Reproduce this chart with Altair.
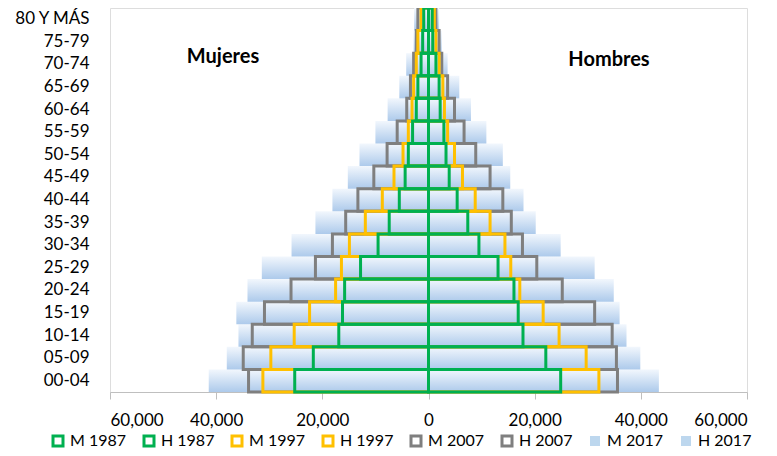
import altair as alt
import pandas as pd

ages = ["00-04", "05-09", "10-14", "15-19", "20-24", "25-29", "30-34", "35-39",
        "40-44", "45-49", "50-54", "55-59", "60-64", "65-69", "70-74", "75-79", "80 Y MÁS"]

# values in thousands, bottom (00-04) to top (80 Y MÁS)
m1987 = [25.2, 21.7, 16.9, 16.2, 15.8, 12.8, 9.5, 7.4, 5.5, 4.4, 3.8, 3.0, 2.3, 2.0, 1.4, 1.1, 0.9]
h1987 = [24.9, 22.1, 17.8, 16.9, 16.1, 13.1, 9.5, 7.4, 5.4, 3.9, 3.3, 2.9, 2.2, 2.0, 1.4, 0.8, 0.7]
m1997 = [31.2, 29.7, 25.3, 22.4, 17.5, 16.4, 14.9, 11.9, 8.7, 6.5, 4.8, 3.8, 3.1, 2.8, 2.3, 2.0, 1.4]
h1997 = [32.1, 29.7, 24.6, 21.6, 17.2, 15.5, 14.4, 11.6, 8.8, 6.4, 4.9, 3.6, 3.0, 2.7, 2.0, 1.4, 1.1]
m2007 = [33.9, 34.9, 33.2, 30.9, 25.9, 21.3, 18.1, 15.6, 13.3, 10.3, 7.8, 5.9, 4.1, 3.4, 2.8, 2.3, 2.0]
h2007 = [35.6, 35.4, 34.6, 31.3, 25.2, 20.4, 17.7, 15.6, 14.0, 11.6, 8.9, 6.7, 4.9, 3.6, 2.5, 2.0, 1.4]
m2017 = [41.4, 38.0, 35.8, 36.2, 34.1, 31.4, 25.8, 21.3, 18.1, 15.2, 13.0, 10.0, 7.7, 5.5, 4.2, 2.8, 2.7]
h2017 = [43.4, 39.9, 37.3, 36.0, 34.9, 31.3, 24.9, 20.2, 17.9, 15.4, 14.0, 10.9, 8.0, 5.8, 3.6, 2.5, 2.0]

series_names = ["M 1987", "H 1987", "M 1997", "H 1997", "M 2007", "H 2007", "M 2017", "H 2017"]
series_vals = [m1987, h1987, m1997, h1997, m2007, h2007, m2017, h2017]
stroke_colors = ["#00B050", "#00B050", "#FFC000", "#FFC000", "#7F7F7F", "#7F7F7F", "transparent", "transparent"]
fill_colors = ["transparent"] * 6 + ["#BDD7EE", "#BDD7EE"]
draw_z = {"1987": 3, "1997": 2, "2007": 1, "2017": 0}

rows = []
for name, vals in zip(series_names, series_vals):
    sign = -1 if name.startswith("M") else 1
    year = name.split()[1]
    for a, v in zip(ages, vals):
        rows.append({"age": a, "serie": name, "year": year, "value": sign * v * 1000, "z": draw_z[year]})
df = pd.DataFrame(rows)

top_to_bottom = ages[::-1]
FONT = "Lato"

x_enc = alt.X("value:Q", stack=None,
              scale=alt.Scale(domain=[-60000, 60000], nice=False),
              axis=alt.Axis(values=[-60000, -40000, -20000, 0, 20000, 40000, 60000],
                            labelExpr="format(abs(datum.value), ',')",
                            grid=False, domainColor="#BFBFBF", tickColor="#BFBFBF",
                            tickSize=7, labelPadding=13, labelFontSize=17, labelFont=FONT,
                            labelColor="#000000", title=None))
y_enc = alt.Y("age:N", sort=top_to_bottom,
              scale=alt.Scale(paddingInner=0, paddingOuter=0),
              axis=alt.Axis(title=None, domain=False, ticks=False, labelPadding=21,
                            labelFontSize=17, labelFont=FONT, labelColor="#000000"))

grad = alt.Gradient(gradient="linear",
                    stops=[alt.GradientStop(color="#F2F7FD", offset=0),
                           alt.GradientStop(color="#ADCAEB", offset=1)],
                    x1=0, x2=0, y1=0, y2=1)

base = alt.Chart(df)

fill2017 = base.transform_filter(alt.datum.year == "2017").mark_bar(color=grad).encode(
    x=x_enc, y=y_enc)

zero_rule = base.transform_filter(alt.datum.serie == "M 1987").mark_rule(
    color="#BFBFBF", strokeWidth=1).encode(x=alt.datum(0))

legend_opts = dict(title=None, orient="none", direction="horizontal",
                   columns=8, legendX=-60, legendY=425,
                   symbolType="square", symbolSize=100,
                   symbolStrokeWidth=3, labelFontSize=16, labelFont=FONT,
                   labelColor="#000000", columnPadding=11, labelOffset=4, labelLimit=120)

outlines = base.transform_filter(alt.datum.year != "2017").mark_bar(strokeWidth=3).encode(
    x=x_enc, y=y_enc,
    fill=alt.Fill("serie:N", scale=alt.Scale(domain=series_names, range=fill_colors),
                  legend=alt.Legend(**legend_opts)),
    stroke=alt.Stroke("serie:N", scale=alt.Scale(domain=series_names, range=stroke_colors),
                      legend=alt.Legend(**legend_opts)),
    order=alt.Order("z:Q"))

lab_df = pd.DataFrame({"t": ["Mujeres", "Hombres"]})
mujeres = alt.Chart(lab_df).transform_filter(alt.datum.t == "Mujeres").mark_text(
    fontSize=20, fontWeight="bold", font=FONT, color="#000000").encode(
    text="t:N", x=alt.value(113), y=alt.value(49))
hombres = alt.Chart(lab_df).transform_filter(alt.datum.t == "Hombres").mark_text(
    fontSize=20, fontWeight="bold", font=FONT, color="#000000").encode(
    text="t:N", x=alt.value(499), y=alt.value(52))

chart = alt.layer(fill2017, zero_rule, outlines, mujeres, hombres).properties(
    width=637, height=384,
    padding={"left": 102, "top": 0, "right": 22, "bottom": 56},
    autosize=alt.AutoSizeParams(type="none"),
).configure_view(stroke=None).configure(background="#FFFFFF")

chart.save("out.html", embed_options={"renderer": "svg", "actions": False})
